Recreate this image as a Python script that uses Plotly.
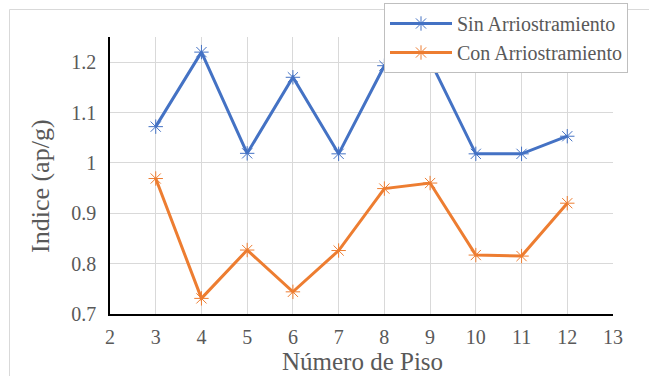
import plotly.graph_objects as go

pisos = [3, 4, 5, 6, 7, 8, 9, 10, 11, 12]
sin_arriostramiento = [1.072, 1.220, 1.019, 1.170, 1.018, 1.193, 1.203, 1.018, 1.018, 1.053]
con_arriostramiento = [0.969, 0.731, 0.827, 0.744, 0.826, 0.949, 0.960, 0.817, 0.815, 0.920]

fig = go.Figure()
fig.add_trace(go.Scatter(
    x=pisos, y=sin_arriostramiento, mode="lines+markers", name="Sin Arriostramiento",
    line=dict(color="#4472C4", width=3),
    marker=dict(symbol="asterisk-open", size=12, color="#4472C4", line=dict(width=1, color="#4472C4")),
))
fig.add_trace(go.Scatter(
    x=pisos, y=con_arriostramiento, mode="lines+markers", name="Con Arriostramiento",
    line=dict(color="#ED7D31", width=3),
    marker=dict(symbol="asterisk-open", size=12, color="#ED7D31", line=dict(width=1, color="#ED7D31")),
))

font = "Liberation Serif"
PLOT_L, PLOT_T, PLOT_W, PLOT_H = 110, 37, 503, 277

def px_x(p):
    return (p - PLOT_L) / PLOT_W

def px_y(p):
    return (PLOT_T + PLOT_H - p) / PLOT_H

fig.update_layout(
    width=649, height=376,
    margin=dict(l=110, r=36, t=37, b=62, autoexpand=False),
    paper_bgcolor="white", plot_bgcolor="white",
    font=dict(family=font, color="#595959", size=20),
    showlegend=True,
    legend=dict(
        x=px_x(384), y=px_y(3), xanchor="left", yanchor="top",
        bgcolor="white", bordercolor="#bfbfbf", borderwidth=1,
        font=dict(family=font, size=20, color="#595959"),
        tracegroupgap=0, itemwidth=62,
    ),
    xaxis=dict(
        range=[2, 13], dtick=1, tick0=2, automargin=False,
        showgrid=True, gridcolor="#d9d9d9", gridwidth=1,
        showline=True, linecolor="black", linewidth=1.5,
        zeroline=False, ticks="", ticklabelstandoff=4,
        tickfont=dict(family=font, size=20, color="#595959"),
    ),
    yaxis=dict(
        range=[0.7, 1.25], automargin=False,
        tickvals=[0.7, 0.8, 0.9, 1.0, 1.1, 1.2],
        ticktext=["0.7", "0.8", "0.9", "1", "1.1", "1.2"],
        showgrid=True, gridcolor="#d9d9d9", gridwidth=1,
        showline=True, linecolor="black", linewidth=1.5,
        zeroline=False, ticks="", ticklabelstandoff=8,
        tickfont=dict(family=font, size=20, color="#595959"),
    ),
    annotations=[
        dict(
            text="Indice (ap/g)", xref="paper", yref="paper",
            x=px_x(40), y=px_y(186), xanchor="center", yanchor="middle",
            textangle=-90, showarrow=False,
            font=dict(family=font, size=26, color="#595959"),
        ),
        dict(
            text="Número de Piso", xref="paper", yref="paper",
            x=px_x(362), y=px_y(375.5), xanchor="center", yanchor="bottom",
            showarrow=False, borderpad=0,
            font=dict(family=font, size=25, color="#595959"),
        ),
    ],
    shapes=[dict(
        type="rect", xref="paper", yref="paper",
        x0=px_x(9.5), x1=px_x(660), y0=px_y(390), y1=px_y(9.5),
        line=dict(color="#d9d9d9", width=1), fillcolor="rgba(0,0,0,0)", layer="below",
    )],
)

fig.write_html("out.html")
